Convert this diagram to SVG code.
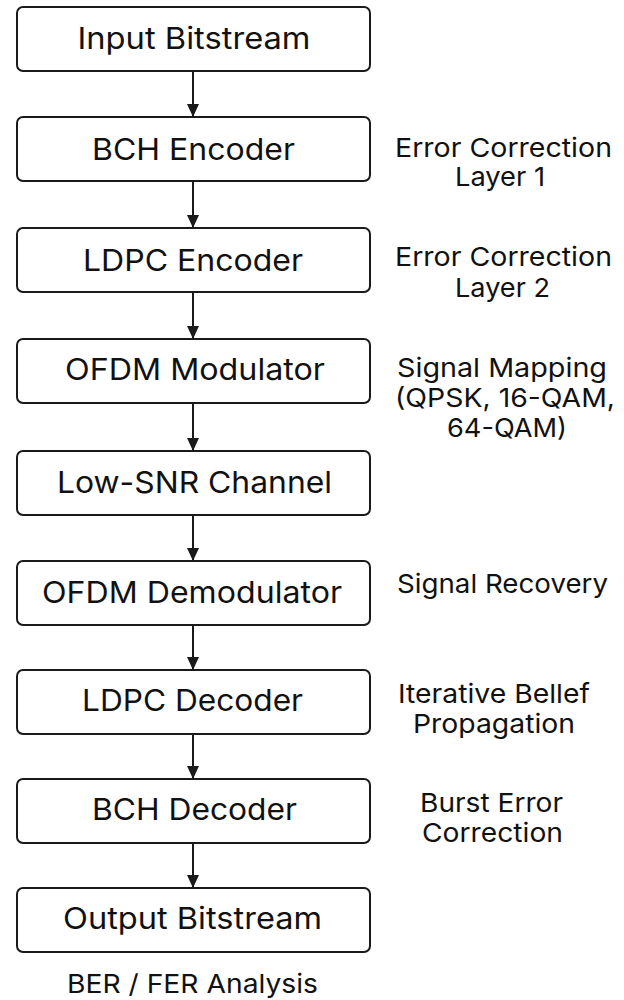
<svg xmlns="http://www.w3.org/2000/svg" width="624" height="1000" viewBox="0 0 624 1000">
<defs>
<style>
.box{fill:#fff;stroke:#1a1a1a;stroke-width:2}
.lbl{font-family:Inter,"Liberation Sans",sans-serif;font-size:30px;font-weight:400;fill:#111;text-anchor:middle}
.side{font-family:Inter,"Liberation Sans",sans-serif;font-size:26px;font-weight:400;fill:#111;text-anchor:middle}
.conn{stroke:#1a1a1a;stroke-width:2;fill:none}
</style>
<marker id="ah" viewBox="0 0 13 12" refX="13" refY="6" markerWidth="13" markerHeight="12" markerUnits="userSpaceOnUse" orient="auto">
<path d="M0,0 L13,6 L0,12 Z" fill="#1a1a1a"/>
</marker>
</defs>
<rect width="624" height="1000" fill="#fff"/>
<g id="connectors">
<line class="conn" x1="193" y1="71" x2="193" y2="117" marker-end="url(#ah)"/>
<line class="conn" x1="193" y1="181" x2="193" y2="228" marker-end="url(#ah)"/>
<line class="conn" x1="193" y1="292" x2="193" y2="339" marker-end="url(#ah)"/>
<line class="conn" x1="193" y1="403" x2="193" y2="451" marker-end="url(#ah)"/>
<line class="conn" x1="193" y1="515" x2="193" y2="561" marker-end="url(#ah)"/>
<line class="conn" x1="193" y1="625" x2="193" y2="670" marker-end="url(#ah)"/>
<line class="conn" x1="193" y1="734" x2="193" y2="779" marker-end="url(#ah)"/>
<line class="conn" x1="193" y1="843" x2="193" y2="888" marker-end="url(#ah)"/>
</g>
<g id="n1"><rect class="box" x="17" y="7" width="353" height="64" rx="6"/><text class="lbl" x="194" y="49" textLength="233" lengthAdjust="spacingAndGlyphs">Input Bitstream</text></g>
<g id="n2"><rect class="box" x="17" y="117" width="353" height="64" rx="6"/><text class="lbl" x="193.5" y="160" textLength="203" lengthAdjust="spacingAndGlyphs">BCH Encoder</text></g>
<g id="n3"><rect class="box" x="17" y="228" width="353" height="64" rx="6"/><text class="lbl" x="193" y="271" textLength="220" lengthAdjust="spacingAndGlyphs">LDPC Encoder</text></g>
<g id="n4"><rect class="box" x="17" y="339" width="353" height="64" rx="6"/><text class="lbl" x="195" y="380" textLength="260" lengthAdjust="spacingAndGlyphs">OFDM Modulator</text></g>
<g id="n5"><rect class="box" x="17" y="451" width="353" height="64" rx="6"/><text class="lbl" x="194.5" y="493" textLength="275" lengthAdjust="spacingAndGlyphs">Low-SNR Channel</text></g>
<g id="n6"><rect class="box" x="17" y="561" width="353" height="64" rx="6"/><text class="lbl" x="192" y="603" textLength="300" lengthAdjust="spacingAndGlyphs">OFDM Demodulator</text></g>
<g id="n7"><rect class="box" x="17" y="670" width="353" height="64" rx="6"/><text class="lbl" x="192.5" y="711" textLength="221" lengthAdjust="spacingAndGlyphs">LDPC Decoder</text></g>
<g id="n8"><rect class="box" x="17" y="779" width="353" height="64" rx="6"/><text class="lbl" x="194.5" y="820" textLength="205" lengthAdjust="spacingAndGlyphs">BCH Decoder</text></g>
<g id="n9"><rect class="box" x="17" y="888" width="353" height="64" rx="6"/><text class="lbl" x="192.5" y="929" textLength="259" lengthAdjust="spacingAndGlyphs">Output Bitstream</text></g>
<g id="notes">
<text class="side" x="503.5" y="157" textLength="217" lengthAdjust="spacingAndGlyphs">Error Correction</text>
<text class="side" x="500" y="186" textLength="90" lengthAdjust="spacingAndGlyphs">Layer 1</text>
<text class="side" x="503.5" y="266" textLength="217" lengthAdjust="spacingAndGlyphs">Error Correction</text>
<text class="side" x="502.5" y="297" textLength="95" lengthAdjust="spacingAndGlyphs">Layer 2</text>
<text class="side" x="502" y="377" textLength="210" lengthAdjust="spacingAndGlyphs">Signal Mapping</text>
<text class="side" x="505" y="407" textLength="220" lengthAdjust="spacingAndGlyphs">(QPSK, 16-QAM,</text>
<text class="side" x="507" y="437" textLength="120" lengthAdjust="spacingAndGlyphs">64-QAM)</text>
<text class="side" x="502.5" y="593" textLength="211" lengthAdjust="spacingAndGlyphs">Signal Recovery</text>
<text class="side" x="494" y="703" textLength="192" lengthAdjust="spacingAndGlyphs">Iterative Bellef</text>
<text class="side" x="494" y="733" textLength="162" lengthAdjust="spacingAndGlyphs">Propagation</text>
<text class="side" x="491.5" y="812" textLength="143" lengthAdjust="spacingAndGlyphs">Burst Error</text>
<text class="side" x="492.5" y="842" textLength="141" lengthAdjust="spacingAndGlyphs">Correction</text>
<text class="side" x="192.5" y="993" textLength="251" lengthAdjust="spacingAndGlyphs">BER / FER Analysis</text>
</g>
</svg>
